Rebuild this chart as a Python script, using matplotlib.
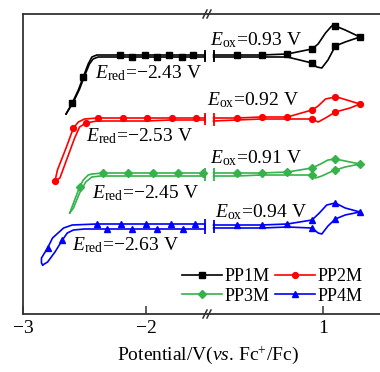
import matplotlib
matplotlib.use("Agg")
import matplotlib.pyplot as plt

plt.rcParams['font.family'] = ['Liberation Serif', 'DejaVu Serif']
plt.rcParams['mathtext.fontset'] = 'custom'
plt.rcParams['mathtext.rm'] = 'Liberation Serif'
plt.rcParams['mathtext.it'] = 'Liberation Serif:italic'

# ---- data (potential in V vs Fc+/Fc, current in arb. units, stacked) ----
# PP1M
pp1_left_a_v = [-1.52, -1.62, -1.81, -2.01, -2.21, -2.40, -2.44, -2.47, -2.51, -2.55, -2.60, -2.65]
pp1_left_a_i = [259, 259, 259, 259, 259, 259, 257, 250, 237, 224, 211, 200]
pp1_left_b_v = [-2.65, -2.59, -2.54, -2.50, -2.46, -2.43, -2.39, -2.11, -1.91, -1.71, -1.52]
pp1_left_b_i = [200, 212, 225, 238, 250, 255, 257, 257, 257, 257, 257]
pp1_right_a_v = [0.11, 0.30, 0.50, 0.71, 0.91, 0.96, 1.02, 1.07, 1.10, 1.18, 1.30]
pp1_right_a_i = [259, 259, 259, 260, 265, 270, 281, 288, 288, 284, 277]
pp1_right_b_v = [0.11, 0.30, 0.50, 0.71, 0.91, 0.95, 0.99, 1.04, 1.10, 1.18, 1.30]
pp1_right_b_i = [257, 257, 257, 257, 251, 247, 246, 254, 268, 272, 277]

# PP2M
pp2_left_a_v = [-1.52, -1.59, -1.79, -1.99, -2.19, -2.39, -2.50, -2.55, -2.59, -2.65, -2.72, -2.74]
pp2_left_a_i = [196, 196, 196, 196, 196, 196, 195, 192, 186, 166, 144, 133]
pp2_left_b_v = [-2.74, -2.70, -2.64, -2.58, -2.54, -2.49, -2.40, -2.20, -2.00, -1.80, -1.52]
pp2_left_b_i = [133, 136, 156, 176, 187, 191, 193, 193, 193, 194, 194]
pp2_right_a_v = [0.11, 0.30, 0.50, 0.71, 0.91, 0.96, 1.02, 1.10, 1.14, 1.22, 1.30]
pp2_right_a_i = [196, 196, 197, 197, 204, 208, 215, 217, 216, 213, 210]
pp2_right_b_v = [0.11, 0.30, 0.50, 0.71, 0.91, 0.96, 1.02, 1.10, 1.22, 1.30]
pp2_right_b_i = [193, 194, 195, 195, 195, 192, 196, 202, 206, 210]

# PP3M
pp3_left_a_v = [-1.52, -1.54, -1.74, -1.94, -2.15, -2.35, -2.44, -2.47, -2.51, -2.54, -2.58, -2.62]
pp3_left_a_i = [141, 141, 141, 141, 141, 141, 140, 139, 134, 127, 114, 101]
pp3_left_b_v = [-2.62, -2.59, -2.54, -2.49, -2.44, -2.37, -1.52]
pp3_left_b_i = [101, 106, 121, 132, 137, 138, 138]
pp3_right_a_v = [0.11, 0.30, 0.50, 0.71, 0.91, 0.98, 1.04, 1.10, 1.18, 1.30]
pp3_right_a_i = [141, 141, 141, 142, 146, 150, 154, 155, 153, 150]
pp3_right_b_v = [0.11, 0.30, 0.50, 0.71, 0.91, 0.94, 0.99, 1.06, 1.10, 1.18, 1.30]
pp3_right_b_i = [138, 138, 139, 139, 139, 136, 138, 142, 144, 147, 150]

# PP4M
pp4_left_a_v = [-1.52, -1.60, -1.80, -2.00, -2.20, -2.40, -2.60, -2.67, -2.76, -2.80, -2.85, -2.85, -2.84]
pp4_left_a_i = [90, 90, 90, 90, 90, 90, 89, 86, 76, 66, 56, 51, 49]
pp4_left_b_v = [-2.84, -2.80, -2.74, -2.68, -2.64, -2.59, -2.50, -2.32, -2.11, -1.91, -1.70, -1.52]
pp4_left_b_i = [49, 52, 62, 74, 81, 84, 85, 85, 85, 85, 85, 85]
pp4_right_a_v = [0.11, 0.30, 0.50, 0.71, 0.91, 0.97, 1.03, 1.10, 1.18, 1.30]
pp4_right_a_i = [89, 89, 89, 90, 94, 101, 109, 111, 106, 102]
pp4_right_b_v = [0.11, 0.30, 0.50, 0.71, 0.91, 0.96, 0.99, 1.04, 1.10, 1.18, 1.30]
pp4_right_b_i = [86, 86, 86, 87, 86, 81, 80, 88, 95, 99, 102]

# which points carry a symbol
pp1_marks = [[1, 2, 3, 4, 8, 10], [7, 8, 9], [1, 2, 3, 4, 8, 10], [4, 8]]
pp2_marks = [[1, 2, 3, 4, 5, 8, 11], [5], [1, 2, 3, 4, 7, 10], [4, 7]]
pp3_marks = [[1, 2, 3, 4, 5, 9], [], [1, 2, 3, 4, 7, 9], [4, 8]]
pp4_marks = [[1, 2, 3, 4, 5, 9], [3, 7, 8, 9, 10], [1, 2, 3, 4, 7, 9], [4, 8]]

names = ['PP1M', 'PP2M', 'PP3M', 'PP4M']
colors = ['black', '#ff0000', '#35b24a', '#0000ff']
markers = ['s', 'o', 'D', '^']
msizes = [4.0, 4.2, 3.8, 4.6]

# potential annotations: (text, potential, current)
ered_labels = ['−2.43', '−2.53', '−2.45', '−2.63']
ered_v = [-2.415, -2.488, -2.439, -2.602]
ered_i = [241, 178, 121, 69]
eox_labels = ['0.93', '0.92', '0.91', '0.94']
eox_v = [0.081, 0.057, 0.081, 0.122]
eox_i = [274, 214, 156, 102]

curves = [
    (pp1_left_a_v, pp1_left_a_i, pp1_left_b_v, pp1_left_b_i,
     pp1_right_a_v, pp1_right_a_i, pp1_right_b_v, pp1_right_b_i, pp1_marks),
    (pp2_left_a_v, pp2_left_a_i, pp2_left_b_v, pp2_left_b_i,
     pp2_right_a_v, pp2_right_a_i, pp2_right_b_v, pp2_right_b_i, pp2_marks),
    (pp3_left_a_v, pp3_left_a_i, pp3_left_b_v, pp3_left_b_i,
     pp3_right_a_v, pp3_right_a_i, pp3_right_b_v, pp3_right_b_i, pp3_marks),
    (pp4_left_a_v, pp4_left_a_i, pp4_left_b_v, pp4_left_b_i,
     pp4_right_a_v, pp4_right_a_i, pp4_right_b_v, pp4_right_b_i, pp4_marks),
]

fig = plt.figure(figsize=(3.8, 3.72), dpi=100)
ax_l = fig.add_axes([23 / 380, 58 / 372, 185 / 380, 300 / 372])
ax_r = fig.add_axes([208 / 380, 58 / 372, 172 / 380, 300 / 372])

handles = []
for k, c in enumerate(curves):
    lav, lai, lbv, lbi, rav, rai, rbv, rbi, mk = c
    kw = dict(color=colors[k], lw=1.2, marker=markers[k], ms=msizes[k], clip_on=False)
    h, = ax_l.plot(lav, lai, markevery=mk[0], **kw)
    ax_l.plot(lbv, lbi, markevery=mk[1], **kw)
    ax_r.plot(rav, rai, markevery=mk[2], **kw)
    ax_r.plot(rbv, rbi, markevery=mk[3], **kw)
    # end caps at the axis break
    ax_l.plot([lav[0], lbv[-1]], [lai[0], lbi[-1]], ls='none', marker='|', ms=7, mew=1.3, color=colors[k])
    ax_r.plot([rav[0], rbv[0]], [rai[0], rbi[0]], ls='none', marker='|', ms=7, mew=1.3, color=colors[k])
    handles.append(h)

    ax_l.text(ered_v[k], ered_i[k], r'$E_{\mathrm{red}}$=' + ered_labels[k] + ' V',
              fontsize=14, va='center', ha='left')
    ax_r.text(eox_v[k], eox_i[k], r'$E_{\mathrm{ox}}$=' + eox_labels[k] + ' V',
              fontsize=14, va='center', ha='left')

ax_l.set_xlim(-3, -1.496)
ax_r.set_xlim(0.065, 1.463)
for ax in (ax_l, ax_r):
    ax.set_ylim(0, 300)
    ax.set_yticks([])
    ax.tick_params(axis='x', direction='in', length=6, width=1.1, labelsize=14, pad=4, color='#333333')
    for s in ax.spines.values():
        s.set_linewidth(1.3)
        s.set_color('#333333')
    ax.patch.set_alpha(0)
ax_l.spines['right'].set_visible(False)
ax_r.spines['left'].set_visible(False)
ax_r.spines['right'].set_visible(False)
ax_l.set_xticks([-3, -2])
ax_l.set_xticklabels(['−3', '−2'])
ax_r.set_xticks([1])
ax_r.set_xticklabels(['1'])

# break marks "//" on top and bottom spines
for yb in (58 / 372, 358 / 372):
    for xb in (205 / 380, 209 / 380):
        fig.add_artist(plt.Line2D([xb - 2 / 380, xb + 2 / 380], [yb - 4 / 372, yb + 4 / 372],
                                  color='#333333', lw=1.1))

fig.text(208 / 380, 1 - 355 / 372, r'Potential/V($\it{vs}$. Fc$^{+}$/Fc)',
         fontsize=14, ha='center', va='center')

# legend rows: PP1M PP2M / PP3M PP4M (matplotlib fills column by column)
order = [0, 2, 1, 3]
fig.legend([handles[j] for j in order], [names[j] for j in order], ncol=2, frameon=False,
           fontsize=13, loc='upper left', bbox_to_anchor=(182 / 380, 1 - 268 / 372),
           handlelength=2.2, handletextpad=0.15, columnspacing=0.3,
           labelspacing=0.15, borderpad=0, borderaxespad=0)

fig.savefig('out.png', dpi=100)
